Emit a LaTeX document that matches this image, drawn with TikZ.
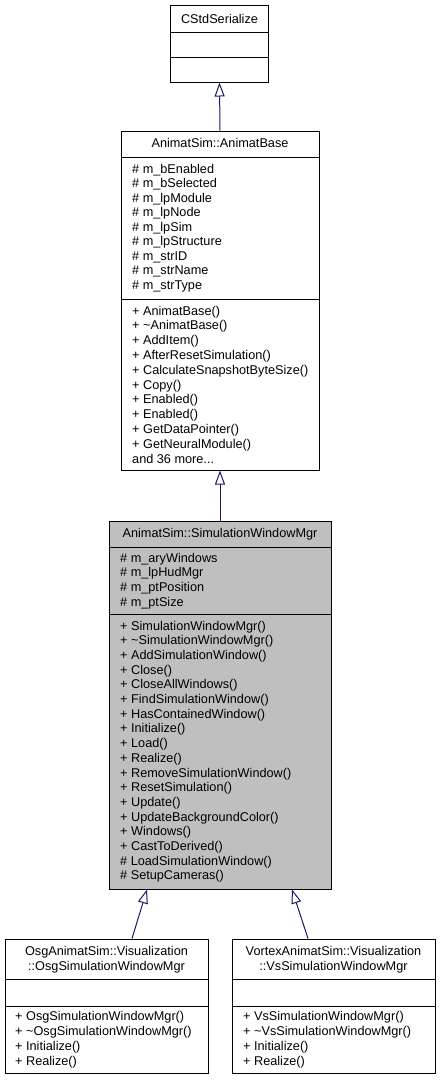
\documentclass[tikz,border=0pt]{standalone}
\usepackage{fontspec}
\setmainfont{Liberation Sans}
\usetikzlibrary{arrows.meta}
\definecolor{edgeblue}{HTML}{191970}
\definecolor{boxgray}{HTML}{BFBFBF}
\tikzset{
  cls/.style={draw=black, line width=1pt, fill=white, rectangle, inner sep=0pt},
  gcls/.style={cls, fill=boxgray},
  sep/.style={draw=black, line width=1pt},
  txt/.style={anchor=base west, inner sep=0pt, font=\fontsize{12.7}{14}\selectfont},
  ttl/.style={anchor=base, inner sep=0pt, font=\fontsize{12.7}{14}\selectfont},
  inh/.style={draw=edgeblue, line width=1pt, -{Triangle[open, length=14pt, width=10pt, fill=white]}}
}
\begin{document}
\begin{tikzpicture}[x=1pt, y=-1pt]
\useasboundingbox[fill=white] (0,0) rectangle (440,1080);
% CStdSerialize
\node[cls, minimum width=98pt, minimum height=77pt] (cstd) at (219.5,43.5) {};
\draw[sep] (170.5,32) -- (268.5,32);
\draw[sep] (170.5,57) -- (268.5,57);
\node[ttl] (cstd-t) at (219.5,23) {CStdSerialize};
% AnimatBase
\node[cls, minimum width=198pt, minimum height=339pt] (base) at (220,300.5) {};
\draw[sep] (121,157) -- (319,157);
\draw[sep] (121,299) -- (319,299);
\node[ttl] (base-t) at (220,147) {AnimatSim::AnimatBase};
\foreach \t [count=\i from 0] in {\# m\_bEnabled, \# m\_bSelected, \# m\_lpModule, \# m\_lpNode, \# m\_lpSim, \# m\_lpStructure, \# m\_strID, \# m\_strName, \# m\_strType}
  \node[txt] (base-a\i) at (132,173+14.5*\i) {\t};
\foreach \t [count=\i from 0] in {+ AnimatBase(), + \textasciitilde AnimatBase(), + AddItem(), + AfterResetSimulation(), + CalculateSnapshotByteSize(), + Copy(), + Enabled(), + Enabled(), + GetDataPointer(), + GetNeuralModule()}
  \node[txt] (base-m\i) at (132,315+14.8*\i) {\t};
\node[txt] (base-more) at (132,463) {and 36 more...};
% SimulationWindowMgr
\node[gcls, minimum width=222pt, minimum height=368pt] (mgr) at (220,705) {};
\draw[sep] (109,547) -- (331,547);
\draw[sep] (109,614) -- (331,614);
\node[ttl] (mgr-t) at (220,537) {AnimatSim::SimulationWindowMgr};
\foreach \t [count=\i from 0] in {\# m\_aryWindows, \# m\_lpHudMgr, \# m\_ptPosition, \# m\_ptSize}
  \node[txt] (mgr-a\i) at (120,562+14.7*\i) {\t};
\foreach \t [count=\i from 0] in {+ SimulationWindowMgr(), + \textasciitilde SimulationWindowMgr(), + AddSimulationWindow(), + Close(), + CloseAllWindows(), + FindSimulationWindow(), + HasContainedWindow(), + Initialize(), + Load(), + Realize(), + RemoveSimulationWindow(), + ResetSimulation(), + Update(), + UpdateBackgroundColor(), + Windows(), + CastToDerived(), \# LoadSimulationWindow(), \# SetupCameras()}
  \node[txt] (mgr-m\i) at (120,630+14.7*\i) {\t};
% OsgSimulationWindowMgr
\node[cls, minimum width=203pt, minimum height=134pt] (osg) at (106.5,1006) {};
\draw[sep] (5,979) -- (208,979);
\draw[sep] (5,1006) -- (208,1006);
\node[ttl] (osg-t1) at (106.5,955) {OsgAnimatSim::Visualization};
\node[ttl] (osg-t2) at (106.5,970) {::OsgSimulationWindowMgr};
\foreach \t [count=\i from 0] in {+ OsgSimulationWindowMgr(), + \textasciitilde OsgSimulationWindowMgr(), + Initialize(), + Realize()}
  \node[txt] (osg-m\i) at (15,1020+15*\i) {\t};
% VsSimulationWindowMgr
\node[cls, minimum width=203pt, minimum height=134pt] (vs) at (333.5,1006) {};
\draw[sep] (232,979) -- (435,979);
\draw[sep] (232,1006) -- (435,1006);
\node[ttl] (vs-t1) at (333.5,955) {VortexAnimatSim::Visualization};
\node[ttl] (vs-t2) at (333.5,970) {::VsSimulationWindowMgr};
\foreach \t [count=\i from 0] in {+ VsSimulationWindowMgr(), + \textasciitilde VsSimulationWindowMgr(), + Initialize(), + Realize()}
  \node[txt] (vs-m\i) at (243,1020+15*\i) {\t};
% inheritance
\draw[inh] (base.north) -- (cstd.south);
\draw[inh] (mgr.north) -- (base.south);
\draw[inh] ([xshift=25.5pt]osg.north) -- ([xshift=-73pt]mgr.south);
\draw[inh] ([xshift=-25.5pt]vs.north) -- ([xshift=72pt]mgr.south);
\end{tikzpicture}
\end{document}
